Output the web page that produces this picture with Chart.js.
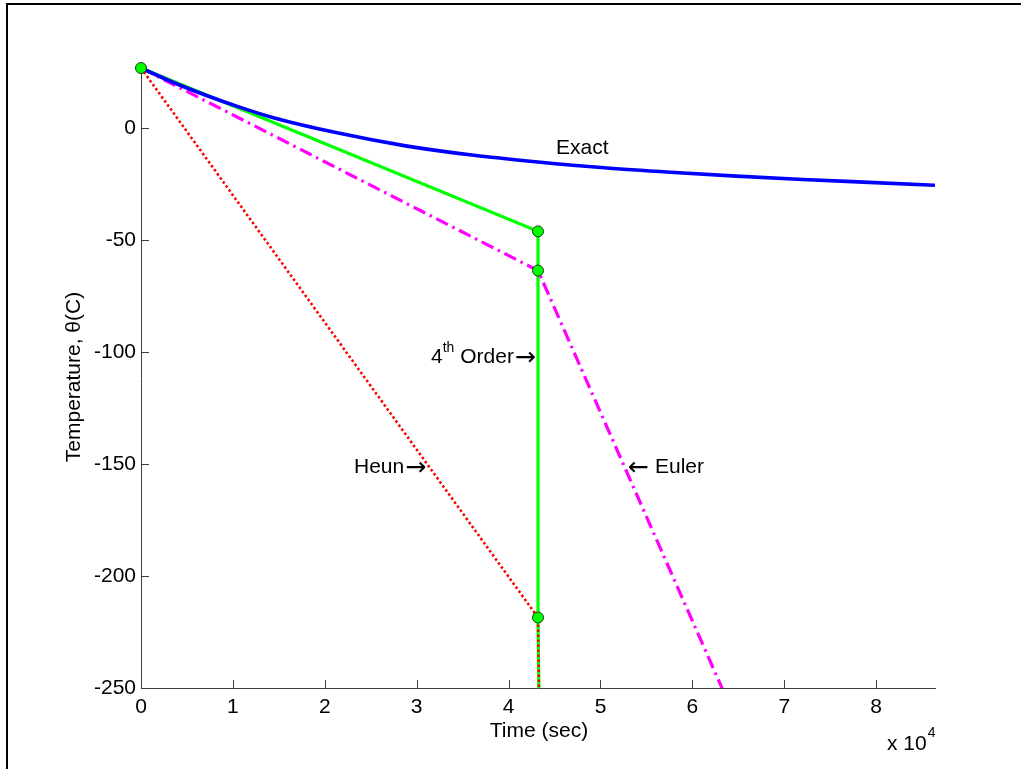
<!DOCTYPE html>
<html>
<head>
<meta charset="utf-8">
<title>Temperature vs time</title>
<script src="https://cdn.jsdelivr.net/npm/chart.js@4.4.1/dist/chart.umd.min.js"></script>
<style>
  html, body { margin: 0; padding: 0; background: #fff; }
  #wrap { position: relative; width: 1021px; height: 769px; }
  #frame {
    position: absolute; left: 6px; top: 3px; right: 0; bottom: 0;
    border-top: 2px solid #000; border-left: 2px solid #000;
    pointer-events: none;
  }
</style>
</head>
<body>
<div id="wrap">
  <canvas id="chart" width="1021" height="769"></canvas>
  <div id="frame"></div>
</div>
<script>
// values (time in s, temperature in C)
const exactTime = [0, 3600, 7200, 10800, 14400, 21600, 28800, 36000, 43200, 50400, 57600, 64800, 72000, 79200, 86400];
const exactTemp = [27, 20.4, 14.6, 9.4, 4.8, -2.2, -7.8, -11.9, -15.0, -17.6, -19.6, -21.3, -22.8, -24.1, -25.4];

const eulerTime = [0, 43200, 86400];
const eulerTemp = [27, -63.5, -466];

const heunTime = [0, 43200, 86400];
const heunTemp = [27, -218.5, -1000000];

const rk4Time = [0, 43200, 43200, 43200, 86400];
const rk4Temp = [27, -46, -63.5, -218.5, -1000000];

const xTickValues = [0, 10000, 20000, 30000, 40000, 50000, 60000, 70000, 80000];
const yTickValues = [0, -50, -100, -150, -200, -250];

const FONT = "'Liberation Sans', Arial, Helvetica, sans-serif";
const ARROW_FONT = "25px 'Noto Sans', 'DejaVu Sans', sans-serif";
const AXIS_COLOR = '#404040';

const toPoints = (xs, ys) => xs.map((x, i) => ({ x: x, y: ys[i] }));

// draws text pieces one after another, each with its own font and baseline
const drawRun = (ctx, x, parts) => {
  parts.forEach((p) => {
    ctx.font = p.font;
    ctx.fillText(p.text, x, p.y);
    x += ctx.measureText(p.text).width + (p.gap || 0);
  });
};

// tick marks inside the axes plus all the text annotations
const decorations = {
  id: 'decorations',
  afterDraw(chart) {
    const ctx = chart.ctx;
    const area = chart.chartArea;
    const xs = chart.scales.x;
    const ys = chart.scales.y;

    ctx.save();
    ctx.strokeStyle = AXIS_COLOR;
    ctx.lineWidth = 1;
    ctx.beginPath();
    xs.ticks.forEach((t) => {
      const px = Math.round(xs.getPixelForValue(t.value)) + 0.5;
      ctx.moveTo(px, area.bottom);
      ctx.lineTo(px, area.bottom - 8);
    });
    ys.ticks.forEach((t) => {
      const py = Math.round(ys.getPixelForValue(t.value)) + 0.5;
      ctx.moveTo(area.left, py);
      ctx.lineTo(area.left + 8, py);
    });
    ctx.stroke();

    ctx.fillStyle = '#000';
    ctx.textBaseline = 'alphabetic';
    const big = '21px ' + FONT;
    const small = '14px ' + FONT;

    // axis titles
    ctx.font = big;
    ctx.textAlign = 'center';
    ctx.fillText('Time (sec)', 539, 737);

    ctx.save();
    ctx.translate(80, 377);
    ctx.rotate(-Math.PI / 2);
    ctx.fillText('Temperature, \u03B8(C)', 0, 0);
    ctx.restore();

    ctx.textAlign = 'left';
    drawRun(ctx, 887, [
      { text: 'x 10', font: big, y: 750, gap: 1 },
      { text: '4', font: small, y: 737 }
    ]);

    // curve labels
    drawRun(ctx, 556, [{ text: 'Exact', font: big, y: 154 }]);
    drawRun(ctx, 431, [
      { text: '4', font: big, y: 363 },
      { text: 'th', font: small, y: 352 },
      { text: ' Order', font: big, y: 363, gap: 1 },
      { text: '\u2192', font: ARROW_FONT, y: 365 }
    ]);
    drawRun(ctx, 354, [
      { text: 'Heun', font: big, y: 473, gap: 1 },
      { text: '\u2192', font: ARROW_FONT, y: 475 }
    ]);
    drawRun(ctx, 628, [
      { text: '\u2190', font: ARROW_FONT, y: 475, gap: 6 },
      { text: 'Euler', font: big, y: 473 }
    ]);

    ctx.restore();
  }
};

new Chart(document.getElementById('chart'), {
  type: 'line',
  data: {
    datasets: [
      {
        label: 'markers',
        data: toPoints(rk4Time.slice(0, 4), rk4Temp.slice(0, 4)),
        showLine: false,
        pointRadius: 5.5,
        pointBackgroundColor: '#00ff00',
        pointBorderColor: '#1a3a1a',
        pointBorderWidth: 1,
        clip: false,
        order: 0
      },
      {
        label: 'Exact',
        data: toPoints(exactTime, exactTemp),
        borderColor: '#0000ff',
        borderWidth: 3.6,
        pointRadius: 0,
        cubicInterpolationMode: 'monotone',
        order: 1
      },
      {
        label: 'Heun',
        data: toPoints(heunTime, heunTemp),
        borderColor: '#ff0000',
        borderWidth: 2.6,
        borderDash: [2.5, 2.5],
        pointRadius: 0,
        order: 2
      },
      {
        label: 'Euler',
        data: toPoints(eulerTime, eulerTemp),
        borderColor: '#ff00ff',
        borderWidth: 3.2,
        borderDash: [13, 5, 2.5, 5],
        pointRadius: 0,
        order: 3
      },
      {
        label: '4th Order',
        data: toPoints(rk4Time, rk4Temp),
        borderColor: '#00ff00',
        borderWidth: 3.2,
        pointRadius: 0,
        order: 4
      }
    ]
  },
  options: {
    responsive: false,
    animation: false,
    events: [],
    layout: { padding: { left: 0, top: 68, right: 86, bottom: 0 } },
    plugins: {
      legend: { display: false },
      tooltip: { enabled: false },
      title: { display: false }
    },
    scales: {
      x: {
        type: 'linear',
        min: 0,
        max: 86400,
        grid: { display: false, drawTicks: false },
        border: { display: true, color: AXIS_COLOR, width: 1 },
        afterBuildTicks: (scale) => { scale.ticks = xTickValues.map((v) => ({ value: v })); },
        afterFit: (scale) => { scale.height = 81; },
        ticks: {
          color: '#000',
          padding: 7,
          maxRotation: 0,
          font: { family: FONT, size: 21 },
          callback: (v) => String(v / 10000)
        }
      },
      y: {
        type: 'linear',
        min: -250,
        max: 27,
        grid: { display: false, drawTicks: false },
        border: { display: true, color: AXIS_COLOR, width: 1 },
        afterBuildTicks: (scale) => { scale.ticks = yTickValues.map((v) => ({ value: v })); },
        afterFit: (scale) => { scale.width = 141; },
        ticks: {
          color: '#000',
          padding: 5,
          font: { family: FONT, size: 21 },
          callback: (v) => String(v)
        }
      }
    }
  },
  plugins: [decorations]
});
</script>
</body>
</html>
